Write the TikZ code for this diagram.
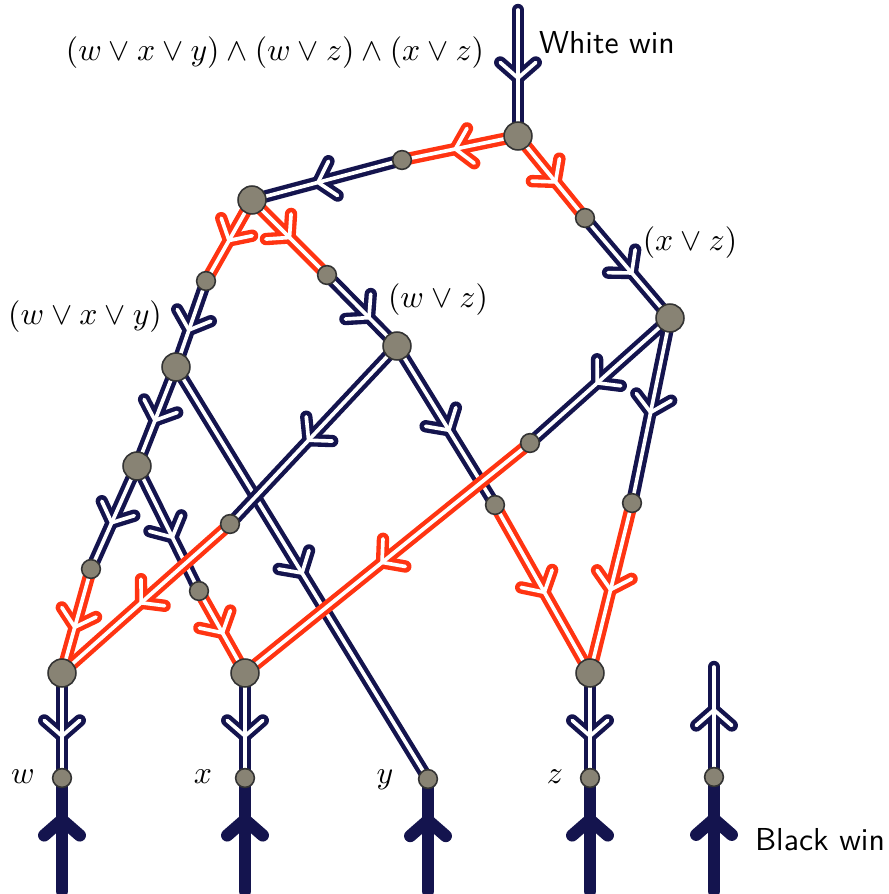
\documentclass[tikz,border=0pt]{standalone}
\usepackage{amsmath}
\usetikzlibrary{decorations.markings}

\definecolor{wnavy}{RGB}{20,20,78}
\definecolor{wred}{RGB}{255,52,18}
\definecolor{knot}{RGB}{136,131,116}

\pgfdeclarelayer{background}
\pgfsetlayers{background,main}

\tikzset{
  big/.style={circle, draw=black!80, line width=0.5pt, fill=knot, minimum size=8.8pt, inner sep=0pt},
  small/.style={big, minimum size=5.9pt},
  outer/.style={draw=#1, line width=3.9pt, line cap=round, line join=round},
  inner/.style={draw=white, line width=1.15pt, line cap=round, line join=round},
  barb/.style 2 args={postaction={decorate, decoration={markings,
      mark=at position #1 with {\draw[#2] (-4.9pt,5.6pt) -- (0,0) -- (-4.9pt,-5.6pt);}}}},
}

\begin{document}
\begin{tikzpicture}[x=0.315pt, y=-0.315pt]
  \useasboundingbox (0,0) rectangle (888,894);

  % 交点
  \node[big]   (T)  at (518,136) {};
  \node[small] (s1) at (402,160) {};
  \node[big]   (A)  at (252,200) {};
  \node[small] (s2) at (585,218) {};
  \node[big]   (R)  at (670,318) {};
  \node[small] (s3) at (206,281) {};
  \node[big]   (L1) at (176,367) {};
  \node[small] (s4) at (327,275) {};
  \node[big]   (M)  at (397,346) {};
  \node[big]   (L2) at (137,466) {};
  \node[small] (s5) at (91,569) {};
  \node[small] (s6) at (199,591) {};
  \node[small] (s7) at (230,524) {};
  \node[small] (s8) at (495,505) {};
  \node[small] (s9) at (530,443) {};
  \node[small] (s10) at (632,503) {};
  \node[big]   (W)  at (62,673) {};
  \node[big]   (X)  at (245,673) {};
  \node[big]   (Z)  at (590,673) {};
  \node[small] (wb) at (62,778) {};
  \node[small] (xb) at (245,778) {};
  \node[small] (yb) at (428,779) {};
  \node[small] (zb) at (590,778) {};
  \node[small] (lg) at (714,777) {};

  % 自由端
  \coordinate (top)  at (518,10);
  \coordinate (lgtop) at (714,667);
  \coordinate (wend) at (62,891);
  \coordinate (xend) at (245,891);
  \coordinate (yend) at (428,891);
  \coordinate (zend) at (590,891);
  \coordinate (lgend) at (714,891);

  \begin{pgfonlayer}{background}
    % 深蓝双线
    \foreach \a/\b/\p in {top/T/0.54, s1/A/0.56, s2/R/0.55, s3/L1/0.57, s4/M/0.6,
        L1/L2/0.54, L2/s5/0.55, L2/s6/0.57, L1/yb/0.5, M/s7/0.53, M/s8/0.53,
        R/s9/0.52, R/s10/0.51, W/wb/0.6, X/xb/0.6, Z/zb/0.6, lg/lgtop/0.61} {
      \draw[outer=wnavy, barb={\p}{outer=wnavy}] (\a.center) -- (\b.center);
      \draw[inner, barb={\p}{inner}] (\a.center) -- (\b.center);
    }
    % 红色双线
    \foreach \a/\b/\p in {T/s1/0.54, T/s2/0.56, A/s3/0.5, A/s4/0.5, s5/W/0.56,
        s6/X/0.51, s7/W/0.53, s8/Z/0.52, s9/X/0.52, s10/Z/0.51} {
      \draw[outer=wred, barb={\p}{outer=wred}] (\a.center) -- (\b.center);
      \draw[inner, barb={\p}{inner}] (\a.center) -- (\b.center);
    }
    % 底部实线
    \foreach \a/\b in {wend/wb, xend/xb, yend/yb, zend/zb, lgend/lg}
      \draw[outer=wnavy, barb={0.63}{outer=wnavy}] (\a) -- (\b.center);
  \end{pgfonlayer}

  \node (formula) at (275,53) {$(w \vee x \vee y) \wedge (w \vee z) \wedge (x \vee z)$};
  \node[font=\sffamily] (white) at (607,43) {White win};
  \node[font=\sffamily] (black) at (820,840) {Black win};
  \node (c1) at (85,317)  {$(w \vee x \vee y)$};
  \node (c2) at (438,300) {$(w \vee z)$};
  \node (c3) at (690,243) {$(x \vee z)$};

  \node (lw) at (23,777)  {$w$};
  \node (lx) at (203,777) {$x$};
  \node (ly) at (385,780) {$y$};
  \node (lz) at (555,777) {$z$};
\end{tikzpicture}
\end{document}
